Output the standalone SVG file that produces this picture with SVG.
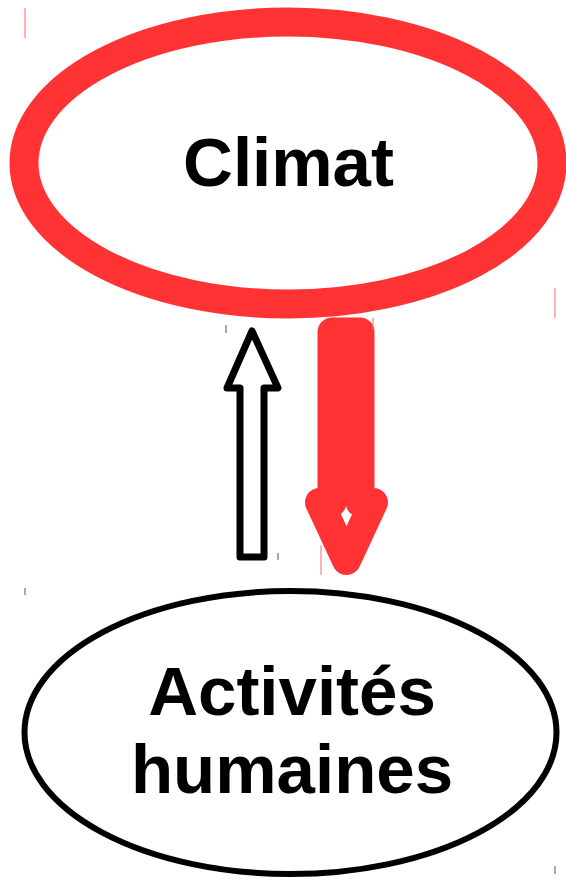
<svg xmlns="http://www.w3.org/2000/svg" width="566" height="885" viewBox="0 0 566 885">
<style>
.lbl{font-family:"Liberation Sans",Arial,sans-serif;font-weight:bold;font-size:69px;fill:#000;text-anchor:middle}
.tickr{stroke:#ff6666;stroke-width:1}
.tickk{stroke:#555;stroke-width:1}
</style>
<rect width="566" height="885" fill="#fff"/>
<g id="climat">
<ellipse cx="288" cy="163" rx="264" ry="141" fill="#fff" stroke="#ff3333" stroke-width="29"/>
<text class="lbl" x="288.5" y="186">Climat</text>
</g>
<g id="activites">
<ellipse cx="290.5" cy="732.5" rx="266" ry="141.5" fill="#fff" stroke="#000" stroke-width="6"/>
<text class="lbl" x="292" y="715">Activités</text>
<text class="lbl" x="292" y="793">humaines</text>
</g>
<g id="connectors">
<path d="M252,331 L278,388 L264,388 L264,557 L240,557 L240,388 L227,388 Z" fill="#fff" stroke="#000" stroke-width="7" stroke-linejoin="round"/>
<path d="M332,332 L360,332 L360,502.5 L373.5,502.5 L346.5,560.5 L319.5,502.5 L332,502.5 Z" fill="#fff" stroke="#ff3333" stroke-width="29" stroke-linejoin="round"/>
</g>
<g id="marks">
<line class="tickr" x1="25" y1="8" x2="25" y2="38"/>
<line class="tickr" x1="555" y1="288" x2="555" y2="318"/>
<line class="tickr" x1="373" y1="318" x2="373" y2="330"/>
<line class="tickr" x1="321" y1="545" x2="321" y2="575"/>
<line class="tickk" x1="226" y1="325" x2="226" y2="333"/>
<line class="tickk" x1="278" y1="553" x2="278" y2="560"/>
<line class="tickk" x1="25" y1="588" x2="25" y2="595"/>
<line class="tickk" x1="555" y1="866" x2="555" y2="874"/>
</g>
</svg>
